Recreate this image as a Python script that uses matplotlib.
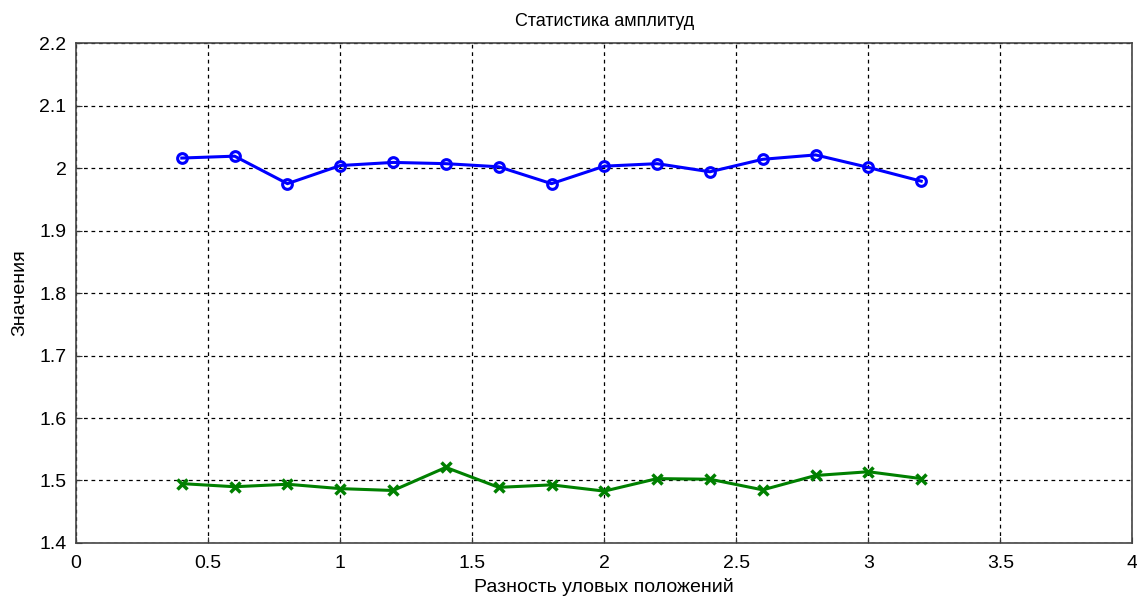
import matplotlib.pyplot as plt

# angle difference (x) and the two amplitude series
x_vals = [0.4, 0.6, 0.8, 1.0, 1.2, 1.4, 1.6, 1.8, 2.0, 2.2, 2.4, 2.6, 2.8, 3.0, 3.2]
blue_vals = [2.016, 2.019, 1.975, 2.004, 2.009, 2.007, 2.002, 1.975, 2.003,
             2.007, 1.994, 2.014, 2.021, 2.001, 1.979]
green_vals = [1.495, 1.490, 1.494, 1.487, 1.484, 1.521, 1.489, 1.493, 1.483,
              1.503, 1.502, 1.485, 1.508, 1.514, 1.503]

x_ticks = [0, 0.5, 1, 1.5, 2, 2.5, 3, 3.5, 4]
x_tick_labels = ["0", "0.5", "1", "1.5", "2", "2.5", "3", "3.5", "4"]
y_ticks = [1.4, 1.5, 1.6, 1.7, 1.8, 1.9, 2.0, 2.1, 2.2]
y_tick_labels = ["1.4", "1.5", "1.6", "1.7", "1.8", "1.9", "2", "2.1", "2.2"]

plt.rcParams['font.family'] = ['Liberation Sans', 'DejaVu Sans']

fig = plt.figure(figsize=(11.37, 5.98), dpi=100)
ax = fig.add_axes([0.067, 0.092, 0.929, 0.836])

ax.plot(x_vals, blue_vals, color='#0000ff', linewidth=2.2, marker='o',
        markersize=7, markerfacecolor='none', markeredgewidth=2.2, zorder=3)
ax.plot(x_vals, green_vals, color='#008000', linewidth=2.2, marker='x',
        markersize=7, markeredgewidth=2.5, zorder=3)

ax.set_xlim(0, 4)
ax.set_ylim(1.4, 2.2)
ax.set_xticks(x_ticks)
ax.set_xticklabels(x_tick_labels)
ax.set_yticks(y_ticks)
ax.set_yticklabels(y_tick_labels)
ax.tick_params(direction='in', length=4, labelsize=14, colors='#333333',
               labelcolor='black')
ax.tick_params(axis='x', pad=9)
ax.tick_params(axis='y', pad=7)

ax.grid(True, color='black', linestyle=(0, (3, 3)), linewidth=0.9)
for s in ax.spines.values():
    s.set_color('#444444')
    s.set_linewidth(1.2)

ax.set_title("Статистика амплитуд", fontsize=13, pad=12)
ax.set_xlabel("Разность уловых положений", fontsize=14, labelpad=4)
ax.set_ylabel("Значения", fontsize=14, labelpad=8)

fig.savefig("out.png", dpi=100)
